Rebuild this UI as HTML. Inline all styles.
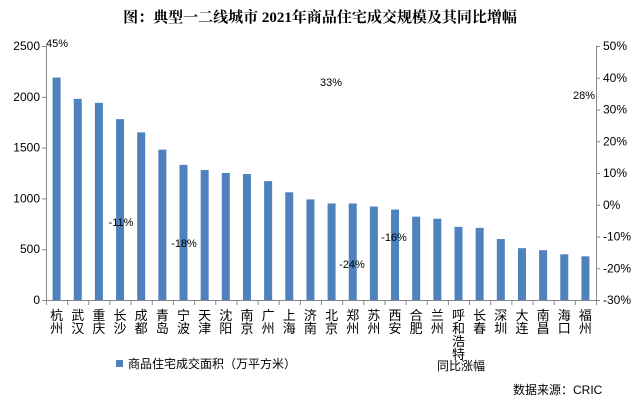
<!DOCTYPE html>
<html><head><meta charset="utf-8"><style>
body{margin:0;background:#fff;}
svg{display:block;font-family:"Liberation Sans","Noto Sans CJK SC",sans-serif;}
</style></head><body>
<svg width="641" height="412" xmlns="http://www.w3.org/2000/svg">
<text x="320" y="22" text-anchor="middle" font-size="15" font-weight="bold" font-family="'Liberation Serif','Noto Serif CJK SC',serif">图：典型一二线城市 2021年商品住宅成交规模及其同比增幅</text>
<g stroke="#888" stroke-width="1">
<line x1="46.5" y1="46" x2="46.5" y2="300"/>
<line x1="596.5" y1="46" x2="596.5" y2="300"/>
<line x1="46" y1="300.5" x2="597" y2="300.5"/>
</g>
<g id="lt" font-size="12" fill="#000" text-anchor="end"></g>
<g id="rt" font-size="12" fill="#000"></g>
<g id="bars" fill="#4f81bd"></g>
<g id="xl" font-size="13" fill="#000" text-anchor="middle"></g>
<g font-size="11" fill="#000" text-anchor="middle">
<text x="57" y="47">45%</text>
<text x="121" y="226">-11%</text>
<text x="184" y="247">-18%</text>
<text x="331" y="86">33%</text>
<text x="352" y="268">-24%</text>
<text x="394" y="241" fill="#000">-16%</text>
<text x="584" y="99">28%</text>
</g>
<rect x="116" y="360" width="7" height="7" fill="#4f81bd"/>
<text x="128" y="368" font-size="12">商品住宅成交面积（万平方米）</text>
<text x="437" y="370" font-size="12">同比涨幅</text>
<text x="513" y="394" font-size="12">数据来源：CRIC</text>
</svg>
<script>
const ns="http://www.w3.org/2000/svg";
function el(p,t,a,txt){const e=document.createElementNS(ns,t);for(const k in a)e.setAttribute(k,a[k]);if(txt!=null)e.textContent=txt;document.getElementById(p).appendChild(e);return e;}
const svg=document.querySelector('svg');
for(let i=0;i<=5;i++){const y=300-i*50.8;
 el('lt','text',{x:40,y:y+4},String(i*500));
 el('lt','line',{x1:42,x2:46,y1:y+.5,y2:y+.5,stroke:'#888'});}
for(let i=0;i<=8;i++){const y=300-i*31.75;const v=-30+i*10;
 el('rt','text',{x:603,y:y+4},v+'%');
 el('rt','line',{x1:596,x2:600,y1:y+.5,y2:y+.5,stroke:'#888'});}
const c=["杭州","武汉","重庆","长沙","成都","青岛","宁波","天津","沈阳","南京","广州","上海","济南","北京","郑州","苏州","西安","合肥","兰州","呼和浩特","长春","深圳","大连","南昌","海口","福州"];
const v=[2190,1980,1940,1780,1650,1480,1330,1280,1250,1240,1170,1060,990,950,950,920,890,820,800,720,710,600,510,490,450,430];
const w=550/26;
c.forEach((n,i)=>{const cx=46+w*(i+.5);const h=v[i]*0.1016;
 el('bars','rect',{x:cx-4,y:300-h,width:8,height:h});
 el('xl','line',{x1:46+w*i+.5,x2:46+w*i+.5,y1:300,y2:305,stroke:'#888'});
 [...n].forEach((ch,j)=>el('xl','text',{x:cx,y:320+j*13},ch));});
el('xl','line',{x1:596.5,x2:596.5,y1:300,y2:305,stroke:'#888'});
</script>
</body></html>
